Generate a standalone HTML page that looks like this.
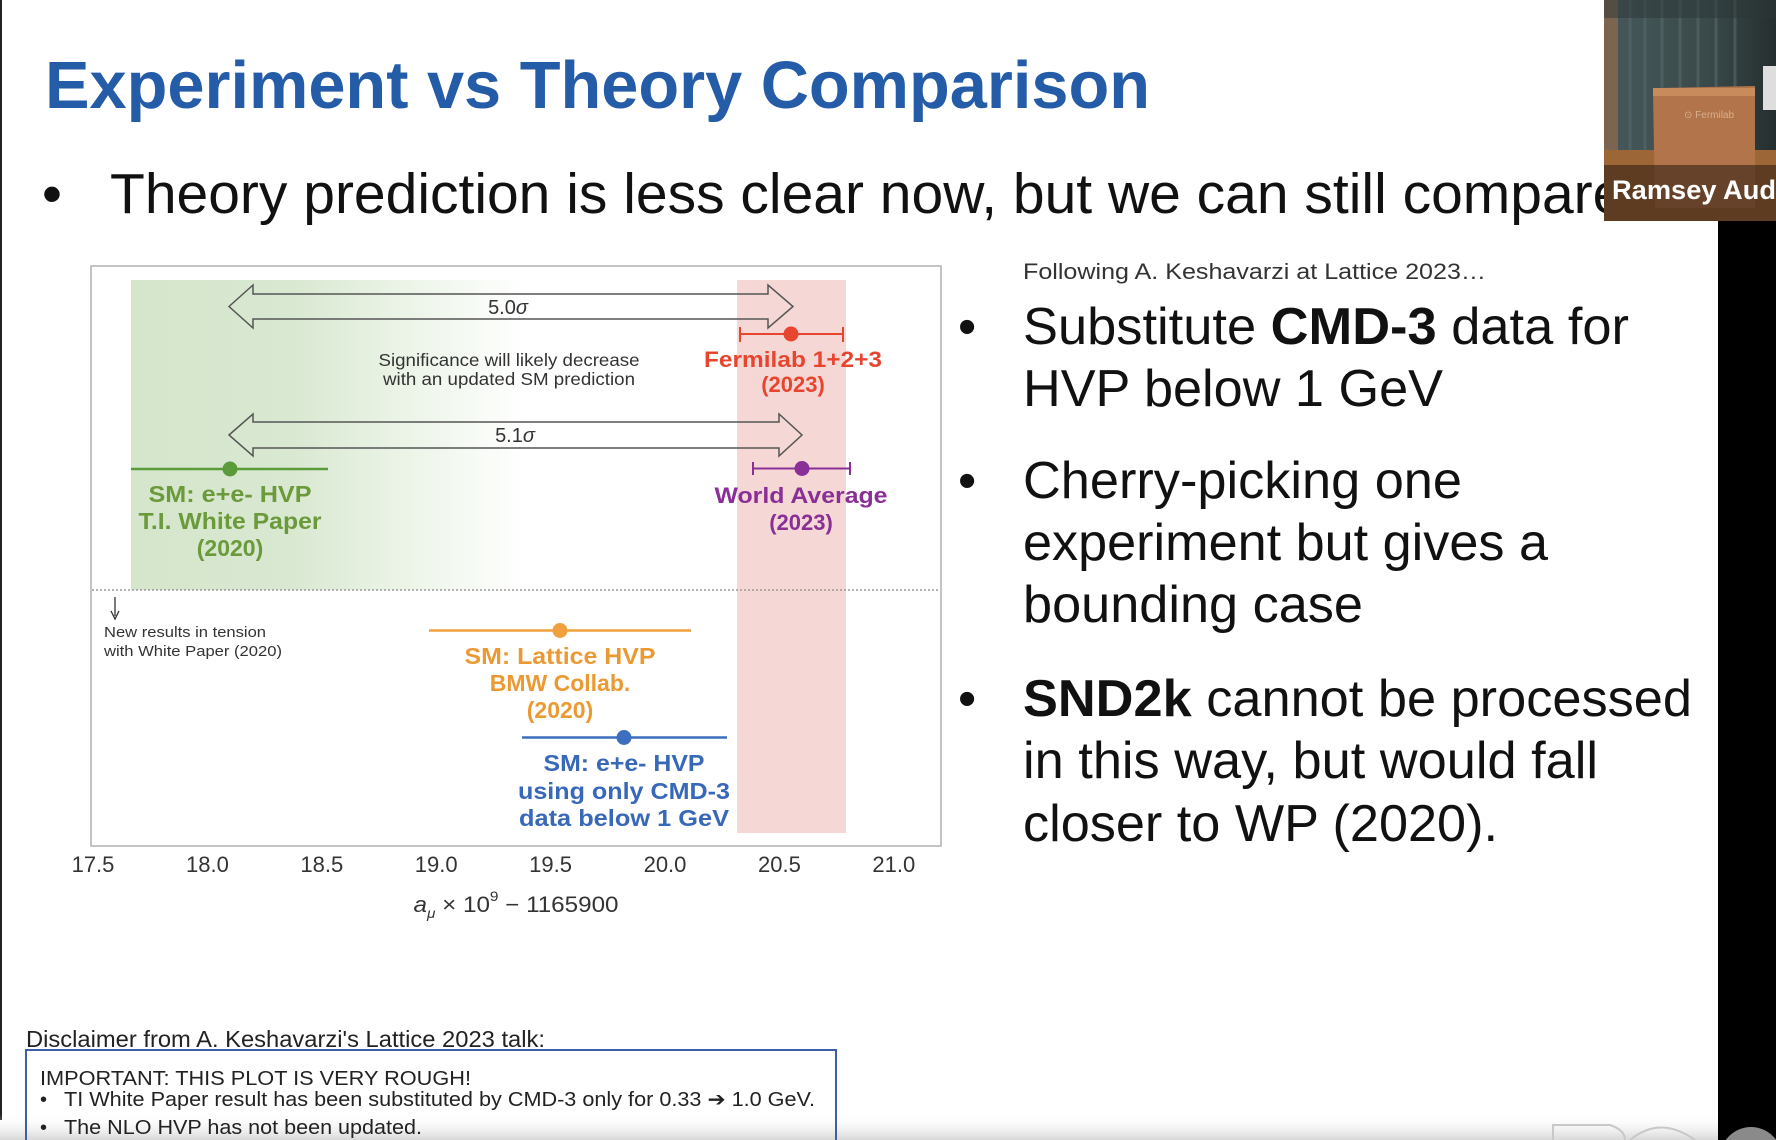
<!DOCTYPE html>
<html>
<head>
<meta charset="utf-8">
<style>
  html,body{margin:0;padding:0;background:#fff;}
  body{width:1776px;height:1140px;overflow:hidden;position:relative;}
  svg{position:absolute;left:0;top:0;}
  text{font-family:"Liberation Sans", Arial, sans-serif;}
</style>
</head>
<body>
<svg width="1776" height="1140" viewBox="0 0 1776 1140" xmlns="http://www.w3.org/2000/svg">
  <defs>
    <linearGradient id="gg" x1="131" y1="0" x2="525" y2="0" gradientUnits="userSpaceOnUse">
      <stop offset="0" stop-color="#d5e6cc"/>
      <stop offset="0.4" stop-color="#d9e8d1"/>
      <stop offset="0.72" stop-color="#edf5e9"/>
      <stop offset="1" stop-color="#ffffff"/>
    </linearGradient>
    <linearGradient id="bot" x1="0" y1="1114" x2="0" y2="1140" gradientUnits="userSpaceOnUse">
      <stop offset="0" stop-color="#ffffff" stop-opacity="0"/>
      <stop offset="1" stop-color="#d0d0d0" stop-opacity="0.85"/>
    </linearGradient>
    <linearGradient id="curt" x1="1604" y1="0" x2="1776" y2="0" gradientUnits="userSpaceOnUse">
      <stop offset="0" stop-color="#46585a"/>
      <stop offset="0.6" stop-color="#3a4a4b"/>
      <stop offset="1" stop-color="#252e2f"/>
    </linearGradient>
  </defs>

  <!-- left dark edge -->
  <rect x="0" y="0" width="2" height="1120" fill="#222"/>

  <!-- Title -->
  <text x="45" y="108" font-size="67" font-weight="bold" fill="#255ca8" textLength="1105" lengthAdjust="spacingAndGlyphs">Experiment vs Theory Comparison</text>

  <!-- first bullet -->
  <text x="42" y="213" font-size="57" fill="#111">•</text>
  <text x="110" y="213" font-size="57" fill="#111">Theory prediction is less clear now, but we can still compare</text>

  <!-- ===== Chart ===== -->
  <rect x="91" y="266" width="850" height="580" fill="#fff" stroke="#b0b0b0" stroke-width="1.5"/>
  <rect x="131" y="280" width="400" height="310" fill="url(#gg)"/>
  <rect x="737" y="280" width="109" height="553" fill="#f5d8d5"/>
  <line x1="92" y1="590" x2="940" y2="590" stroke="#9a9a9a" stroke-width="1.5" stroke-dasharray="2,2"/>

  <!-- arrows -->
  <path d="M229,306.5 L253,285 L253,294 L768,294 L768,285 L793,306.5 L768,328 L768,319 L253,319 L253,328 Z" fill="none" stroke="#555" stroke-width="1.5"/>
  <text x="508" y="314" font-size="20" fill="#333" text-anchor="middle">5.0<tspan font-style="italic">σ</tspan></text>
  <path d="M229,435 L253,414 L253,422 L779,422 L779,414 L802,435 L779,456 L779,448 L253,448 L253,456 Z" fill="none" stroke="#555" stroke-width="1.5"/>
  <text x="515" y="442" font-size="20" fill="#333" text-anchor="middle">5.1<tspan font-style="italic">σ</tspan></text>

  <!-- significance note -->
  <text x="509" y="366" font-size="17.5" fill="#333" text-anchor="middle" textLength="261" lengthAdjust="spacingAndGlyphs">Significance will likely decrease</text>
  <text x="509" y="385" font-size="17.5" fill="#333" text-anchor="middle" textLength="252" lengthAdjust="spacingAndGlyphs">with an updated SM prediction</text>

  <!-- Fermilab -->
  <g stroke="#e8452f" stroke-width="2">
    <line x1="740" y1="334" x2="843" y2="334"/>
    <line x1="740" y1="327" x2="740" y2="342"/>
    <line x1="843" y1="327" x2="843" y2="342"/>
  </g>
  <circle cx="791" cy="334" r="7.5" fill="#e8452f"/>
  <text x="793" y="367" font-size="22" font-weight="bold" fill="#e8452f" text-anchor="middle" textLength="178" lengthAdjust="spacingAndGlyphs">Fermilab 1+2+3</text>
  <text x="793" y="392" font-size="22" font-weight="bold" fill="#e8452f" text-anchor="middle">(2023)</text>

  <!-- World average -->
  <g stroke="#8a2f96" stroke-width="2">
    <line x1="753" y1="468.5" x2="850" y2="468.5"/>
    <line x1="753" y1="462" x2="753" y2="475"/>
    <line x1="850" y1="462" x2="850" y2="475"/>
  </g>
  <circle cx="802" cy="468.5" r="7.5" fill="#8a2f96"/>
  <text x="801" y="503" font-size="22" font-weight="bold" fill="#8a2f96" text-anchor="middle" textLength="173" lengthAdjust="spacingAndGlyphs">World Average</text>
  <text x="801" y="530" font-size="22" font-weight="bold" fill="#8a2f96" text-anchor="middle">(2023)</text>

  <!-- Green WP -->
  <line x1="131" y1="469" x2="328" y2="469" stroke="#5b9b3a" stroke-width="2.5"/>
  <circle cx="230" cy="469" r="7.5" fill="#5b9b3a"/>
  <text x="230" y="502" font-size="23" font-weight="bold" fill="#6a9a3a" text-anchor="middle" textLength="163" lengthAdjust="spacingAndGlyphs">SM: e+e- HVP</text>
  <text x="230" y="529" font-size="23" font-weight="bold" fill="#6a9a3a" text-anchor="middle" textLength="183" lengthAdjust="spacingAndGlyphs">T.I. White Paper</text>
  <text x="230" y="556" font-size="23" font-weight="bold" fill="#6a9a3a" text-anchor="middle">(2020)</text>

  <!-- new results note -->
  <line x1="115" y1="597" x2="115" y2="616" stroke="#333" stroke-width="1.3"/>
  <path d="M111,611 L115,619 L119,611" fill="none" stroke="#333" stroke-width="1.3"/>
  <text x="104" y="637" font-size="15" fill="#333" textLength="162" lengthAdjust="spacingAndGlyphs">New results in tension</text>
  <text x="104" y="656" font-size="15" fill="#333" textLength="178" lengthAdjust="spacingAndGlyphs">with White Paper (2020)</text>

  <!-- Orange lattice -->
  <line x1="429" y1="630.5" x2="691" y2="630.5" stroke="#f0a03c" stroke-width="2.5"/>
  <circle cx="560" cy="630.5" r="7.5" fill="#f0a03c"/>
  <text x="560" y="664" font-size="23" font-weight="bold" fill="#eb9a33" text-anchor="middle" textLength="191" lengthAdjust="spacingAndGlyphs">SM: Lattice HVP</text>
  <text x="560" y="691" font-size="23" font-weight="bold" fill="#eb9a33" text-anchor="middle">BMW Collab.</text>
  <text x="560" y="718" font-size="23" font-weight="bold" fill="#eb9a33" text-anchor="middle">(2020)</text>

  <!-- Blue CMD-3 -->
  <line x1="522" y1="737.5" x2="727" y2="737.5" stroke="#3d6fc0" stroke-width="2.5"/>
  <circle cx="624" cy="737.5" r="7.5" fill="#3d6fc0"/>
  <text x="624" y="771" font-size="23" font-weight="bold" fill="#3868b8" text-anchor="middle" textLength="161" lengthAdjust="spacingAndGlyphs">SM: e+e- HVP</text>
  <text x="624" y="799" font-size="23" font-weight="bold" fill="#3868b8" text-anchor="middle" textLength="212" lengthAdjust="spacingAndGlyphs">using only CMD-3</text>
  <text x="624" y="826" font-size="23" font-weight="bold" fill="#3868b8" text-anchor="middle" textLength="210" lengthAdjust="spacingAndGlyphs">data below 1 GeV</text>

  <!-- x ticks -->
  <g font-size="22" fill="#333" text-anchor="middle">
    <text x="93" y="872">17.5</text>
    <text x="207.4" y="872">18.0</text>
    <text x="321.8" y="872">18.5</text>
    <text x="436.2" y="872">19.0</text>
    <text x="550.6" y="872">19.5</text>
    <text x="665" y="872">20.0</text>
    <text x="779.4" y="872">20.5</text>
    <text x="893.8" y="872">21.0</text>
  </g>
  <text x="516" y="912" font-size="22" fill="#333" text-anchor="middle" textLength="205" lengthAdjust="spacingAndGlyphs"><tspan font-style="italic">a</tspan><tspan font-size="14" font-style="italic" dy="6">μ</tspan><tspan dy="-6"> × 10</tspan><tspan font-size="14" dy="-11">9</tspan><tspan dy="11"> − 1165900</tspan></text>

  <!-- ===== Right column ===== -->
  <text x="1023" y="279" font-size="22" fill="#333" textLength="463" lengthAdjust="spacingAndGlyphs">Following A. Keshavarzi at Lattice 2023…</text>
  <g font-size="52" fill="#111">
    <text x="958" y="344">•</text>
    <text x="1023" y="344" textLength="606" lengthAdjust="spacingAndGlyphs">Substitute <tspan font-weight="bold">CMD-3</tspan> data for</text>
    <text x="1023" y="406" textLength="420" lengthAdjust="spacingAndGlyphs">HVP below 1 GeV</text>
    <text x="958" y="498">•</text>
    <text x="1023" y="498" textLength="439" lengthAdjust="spacingAndGlyphs">Cherry-picking one</text>
    <text x="1023" y="560" textLength="525" lengthAdjust="spacingAndGlyphs">experiment but gives a</text>
    <text x="1023" y="622" textLength="340" lengthAdjust="spacingAndGlyphs">bounding case</text>
    <text x="958" y="716">•</text>
    <text x="1023" y="716" textLength="669" lengthAdjust="spacingAndGlyphs"><tspan font-weight="bold">SND2k</tspan> cannot be processed</text>
    <text x="1023" y="778" textLength="575" lengthAdjust="spacingAndGlyphs">in this way, but would fall</text>
    <text x="1023" y="841" textLength="475" lengthAdjust="spacingAndGlyphs">closer to WP (2020).</text>
  </g>

  <!-- ===== Disclaimer ===== -->
  <rect x="26" y="1050" width="810" height="120" fill="#fff" stroke="#3d5fa8" stroke-width="2"/>
  <!-- bottom gray fade (under text) -->
  <rect x="0" y="1114" width="1718" height="26" fill="url(#bot)"/>
  <line x1="26" y1="1050" x2="26" y2="1140" stroke="#3d5fa8" stroke-width="2"/>
  <line x1="836" y1="1050" x2="836" y2="1140" stroke="#3d5fa8" stroke-width="2"/>
  <text x="26" y="1047" font-size="23" fill="#222" textLength="519" lengthAdjust="spacingAndGlyphs">Disclaimer from A. Keshavarzi's Lattice 2023 talk:</text>
  <text x="40" y="1085" font-size="20" fill="#222" textLength="431" lengthAdjust="spacingAndGlyphs">IMPORTANT: THIS PLOT IS VERY ROUGH!</text>
  <text x="40" y="1106" font-size="20" fill="#222">•</text>
  <text x="64" y="1106" font-size="20" fill="#222" textLength="751" lengthAdjust="spacingAndGlyphs">TI White Paper result has been substituted by CMD-3 only for 0.33 ➔ 1.0 GeV.</text>
  <text x="40" y="1134" font-size="20" fill="#222">•</text>
  <text x="64" y="1134" font-size="20" fill="#222" textLength="358" lengthAdjust="spacingAndGlyphs">The NLO HVP has not been updated.</text>

  <path d="M1553,1140 L1553,1125 L1610,1125 Q1625,1130 1625,1140" fill="none" stroke="#c8c8c8" stroke-width="2"/>
  <path d="M1630,1140 Q1660,1115 1695,1140" fill="none" stroke="#c8c8c8" stroke-width="2"/>

  <!-- right black bar -->
  <rect x="1718" y="221" width="58" height="919" fill="#000"/>
  <circle cx="1751" cy="1158" r="31" fill="#8a8a8a"/>

  <!-- ===== Video thumbnail ===== -->
  <rect x="1604" y="0" width="172" height="221" fill="url(#curt)"/>
  <g stroke="#56696a" stroke-width="3" opacity="0.6">
    <line x1="1630" y1="0" x2="1630" y2="165"/>
    <line x1="1645" y1="0" x2="1645" y2="165"/>
    <line x1="1662" y1="0" x2="1662" y2="90"/>
    <line x1="1680" y1="0" x2="1680" y2="90"/>
    <line x1="1698" y1="0" x2="1698" y2="90"/>
    <line x1="1716" y1="0" x2="1716" y2="90"/>
    <line x1="1735" y1="0" x2="1735" y2="90"/>
  </g>
  <rect x="1604" y="0" width="14" height="221" fill="#7b6450"/>
  <rect x="1604" y="150" width="172" height="71" fill="#9c6636"/>
  <rect x="1604" y="0" width="172" height="18" fill="#2c3536" opacity="0.5"/>
  <polygon points="1653,92 1660,88 1755,86 1755,208 1655,208" fill="#b2744a"/>
  <rect x="1653" y="88" width="102" height="8" fill="#c78b5c"/>
  <text x="1684" y="118" font-size="10" fill="#d9b08e">⊙ Fermilab</text>
  <rect x="1763" y="66" width="13" height="44" fill="#dedede"/>
  <rect x="1604" y="165" width="172" height="56" fill="#2a1a10" opacity="0.55"/>
  <text x="1612" y="199" font-size="27" font-weight="bold" fill="#ffffff" textLength="164" lengthAdjust="spacingAndGlyphs">Ramsey Aud</text>
</svg>
</body>
</html>
